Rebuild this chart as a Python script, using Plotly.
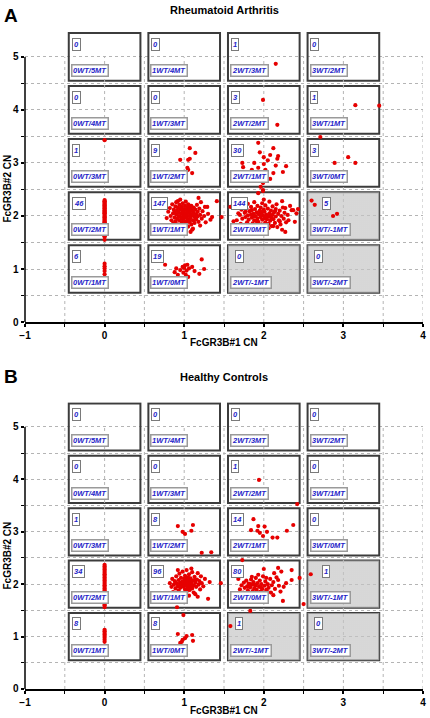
import plotly.graph_objects as go

# ---------------- data ----------------
wt_copies = [0, 1, 2, 3]            # FcGR3B#1 CN (x)
total_copies = [5, 4, 3, 2, 1]      # FcGR3B#2 CN (y), rows top->bottom

ra_counts = [[0, 0, 1, 0],
             [0, 0, 3, 1],
             [1, 9, 30, 3],
             [46, 147, 144, 5],
             [6, 19, 0, 0]]
hc_counts = [[0, 0, 0, 0],
             [0, 0, 1, 0],
             [1, 8, 14, 0],
             [34, 96, 80, 1],
             [8, 8, 1, 0]]

ra_zero_y = [3.43, 2.30, 2.28, 2.27, 2.25, 2.23, 2.21, 2.20, 2.18, 2.16, 2.14, 2.13, 2.11,
             2.09, 2.07, 2.05, 2.04, 2.02, 2.00, 1.98, 1.97, 1.95, 1.93, 1.91, 1.89, 1.88,
             1.86, 1.84, 1.82, 1.80, 1.79, 1.77, 1.75, 1.73, 1.71, 1.70, 1.68, 1.66, 1.64,
             1.62, 1.61, 1.55, 1.10, 1.05, 1.01, 0.96, 0.90, 0.82]

ra_points = [
    # 1WT/1MT
    (0.78, 1.96), (0.80, 2.08), (0.82, 2.15), (0.83, 2.00), (0.84, 1.92), (0.85, 2.22),
    (0.86, 2.05), (0.86, 1.86), (0.87, 2.12), (0.88, 1.97), (0.89, 2.18), (0.89, 1.90),
    (0.90, 2.03), (0.90, 2.26), (0.91, 1.95), (0.91, 2.10), (0.92, 1.84), (0.92, 2.16),
    (0.93, 2.00), (0.93, 2.07), (0.94, 1.92), (0.94, 2.21), (0.95, 1.79), (0.95, 2.12),
    (0.95, 2.31), (0.96, 1.97), (0.96, 2.04), (0.97, 1.88), (0.97, 2.17), (0.97, 1.73),
    (0.98, 2.09), (0.98, 1.94), (0.98, 2.24), (0.99, 2.01), (0.99, 1.83), (1.00, 2.13),
    (1.00, 1.96), (1.00, 2.06), (1.01, 1.90), (1.01, 2.19), (1.01, 1.77), (1.02, 2.02),
    (1.02, 2.27), (1.03, 1.97), (1.03, 2.11), (1.03, 1.86), (1.04, 2.05), (1.04, 2.16),
    (1.05, 1.93), (1.05, 1.80), (1.05, 2.22), (1.06, 2.00), (1.06, 2.09), (1.07, 1.89),
    (1.07, 2.14), (1.08, 1.96), (1.08, 2.04), (1.08, 1.70), (1.09, 2.19), (1.09, 1.84),
    (1.10, 2.01), (1.10, 2.10), (1.11, 1.92), (1.11, 1.76), (1.12, 2.06), (1.12, 2.16),
    (1.13, 1.98), (1.13, 1.87), (1.14, 2.12), (1.15, 2.03), (1.15, 1.94), (1.16, 2.21),
    (1.17, 1.99), (1.17, 2.08), (1.18, 1.89), (1.19, 2.14), (1.20, 2.02), (1.20, 1.82),
    (1.21, 2.26), (1.22, 1.95), (1.23, 2.09), (1.25, 2.00), (1.26, 2.17), (1.27, 1.88),
    (1.29, 2.17), (1.30, 2.04), (1.33, 1.93), (1.35, 1.98), (1.41, 2.28), (1.47, 1.98),
    (0.97, 1.74), (1.10, 1.74), (1.18, 2.34), (0.92, 2.28), (1.02, 1.99), (0.99, 2.08),
    (1.04, 1.91), (0.96, 2.14), (1.06, 2.20), (0.88, 2.07), (1.14, 2.00), (1.00, 2.01),
    (0.94, 1.99), (1.08, 2.12),
    # 2WT/0MT
    (1.58, 2.17), (1.62, 1.90), (1.66, 1.92), (1.68, 2.05), (1.70, 2.02), (1.71, 1.85),
    (1.72, 2.12), (1.73, 1.95), (1.74, 2.20), (1.75, 1.80), (1.76, 2.06), (1.77, 1.98),
    (1.78, 2.14), (1.79, 1.88), (1.80, 2.23), (1.80, 2.01), (1.81, 1.93), (1.82, 2.09),
    (1.83, 1.77), (1.84, 2.17), (1.85, 2.11), (1.85, 1.97), (1.86, 1.86), (1.87, 2.04),
    (1.88, 2.26), (1.88, 1.92), (1.89, 2.13), (1.90, 1.81), (1.90, 2.00), (1.91, 2.07),
    (1.92, 1.95), (1.92, 2.19), (1.93, 2.43), (1.93, 1.89), (1.94, 2.03), (1.94, 1.74),
    (1.95, 2.10), (1.96, 1.98), (1.96, 2.16), (1.97, 1.84), (1.97, 2.06), (1.98, 1.93),
    (1.98, 2.24), (1.99, 2.49), (1.99, 2.01), (2.00, 1.79), (2.00, 2.12), (2.01, 1.96),
    (2.01, 2.08), (2.02, 1.88), (2.02, 2.20), (2.03, 2.02), (2.04, 1.94), (2.04, 1.72),
    (2.05, 2.14), (2.05, 1.99), (2.06, 1.85), (2.07, 2.05), (2.07, 2.27), (2.08, 1.91),
    (2.09, 2.10), (2.09, 1.97), (2.10, 1.81), (2.11, 2.18), (2.11, 2.02), (2.12, 1.94),
    (2.13, 2.07), (2.14, 1.87), (2.15, 2.13), (2.15, 1.99), (2.16, 2.22), (2.17, 1.79),
    (2.18, 2.04), (2.19, 1.92), (2.20, 2.10), (2.21, 1.84), (2.22, 2.00), (2.23, 2.28),
    (2.23, 1.74), (2.24, 2.16), (2.25, 1.95), (2.26, 2.06), (2.27, 2.15), (2.27, 1.70),
    (2.28, 1.88), (2.30, 2.02), (2.31, 1.92), (2.33, 2.19), (2.35, 2.11), (2.37, 2.11),
    (2.39, 1.89), (2.41, 2.05), (2.43, 2.13), (2.12, 1.81), (2.06, 1.77), (1.87, 1.99),
    (1.95, 2.04), (2.03, 1.96), (1.99, 2.09), (2.08, 2.00), (1.91, 1.90), (2.14, 2.09),
    (1.84, 2.03), (2.00, 2.31), (1.77, 2.08), (2.20, 1.90),
    # 2WT/1MT
    (1.93, 3.38), (2.12, 3.28), (2.00, 3.11), (2.08, 3.15), (2.18, 3.13), (2.17, 3.08),
    (1.73, 3.00), (1.74, 2.92), (1.88, 3.00), (2.00, 2.98), (2.28, 2.94), (1.93, 2.91),
    (2.02, 2.87), (1.85, 2.87), (2.12, 2.81), (2.24, 2.83), (1.89, 2.81), (1.98, 2.81),
    (2.04, 2.79), (1.93, 2.74), (1.99, 2.72), (1.92, 2.68), (1.99, 2.62), (1.99, 2.47),
    (2.05, 3.05), (1.95, 3.20), (2.15, 2.95), (1.82, 2.75), (2.08, 2.70), (1.96, 2.55),
    # 1WT/2MT
    (1.07, 3.28), (1.14, 3.19), (1.05, 3.06), (1.07, 3.08), (0.95, 3.06), (1.04, 2.91),
    (1.05, 2.87), (1.10, 2.81), (0.95, 2.72),
    # 1WT/0MT
    (0.76, 1.08), (0.88, 0.94), (0.92, 0.89), (0.98, 1.04), (1.00, 1.02), (1.02, 0.89),
    (1.05, 0.85), (1.10, 1.04), (1.19, 0.91), (1.25, 1.00), (0.95, 0.98), (1.01, 1.07),
    (1.03, 0.97), (0.99, 0.93), (1.06, 1.01), (1.13, 0.96), (0.90, 1.01), (1.22, 1.18),
    (1.04, 1.08),
    # others
    (2.71, 3.49), (2.89, 3.00), (3.06, 3.11), (3.15, 3.00),
    (3.15, 4.09), (3.45, 4.08),
    (1.66, 3.77), (1.99, 4.19), (2.17, 3.72),
    (2.15, 4.87),
    (2.60, 2.29), (2.64, 2.21), (2.87, 2.00), (2.92, 2.04),
]

hc_zero_y = [2.69, 2.37, 2.34, 2.31, 2.28, 2.25, 2.22, 2.19, 2.16, 2.13, 2.10, 2.07, 2.04,
             2.01, 1.98, 1.95, 1.92, 1.89, 1.87, 1.84, 1.81, 1.78, 1.76, 1.73, 1.70, 1.68,
             1.65, 1.62, 1.60, 1.56, 1.13, 1.10, 1.07, 1.04, 1.01, 0.98, 0.94, 0.90]

hc_points = [
    # 1WT/1MT
    (0.86, 1.85), (0.91, 1.56), (0.99, 1.41), (1.17, 1.76), (1.30, 1.72), (1.32, 2.04),
    (0.82, 2.02), (0.84, 1.95), (0.85, 2.10), (0.87, 1.99), (0.88, 2.06), (0.89, 1.92),
    (0.90, 2.15), (0.91, 2.01), (0.92, 1.96), (0.93, 2.08), (0.93, 1.88), (0.94, 2.20),
    (0.95, 2.03), (0.95, 1.93), (0.96, 2.12), (0.97, 1.98), (0.97, 1.83), (0.98, 2.05),
    (0.98, 2.24), (0.99, 1.95), (1.00, 2.10), (1.00, 2.00), (1.01, 1.90), (1.01, 2.16),
    (1.02, 2.04), (1.02, 1.97), (1.03, 2.27), (1.03, 1.86), (1.04, 2.08), (1.04, 2.01),
    (1.05, 1.94), (1.05, 2.13), (1.06, 1.99), (1.06, 2.19), (1.07, 2.05), (1.07, 1.89),
    (1.08, 1.96), (1.08, 2.11), (1.09, 2.02), (1.10, 1.92), (1.10, 2.23), (1.11, 2.07),
    (1.12, 1.98), (1.12, 1.84), (1.13, 2.14), (1.14, 2.03), (1.15, 1.95), (1.16, 2.09),
    (1.17, 2.21), (1.18, 1.99), (1.19, 2.06), (1.20, 1.90), (1.21, 2.15), (1.22, 2.02),
    (1.24, 1.96), (1.26, 2.10), (0.98, 1.80), (1.06, 1.78), (1.14, 1.81), (0.92, 2.27),
    (1.09, 2.30), (1.02, 2.13), (0.96, 2.00), (1.04, 1.92), (1.00, 2.05), (1.11, 1.97),
    (0.89, 2.04), (1.07, 2.00), (0.95, 1.98), (1.13, 2.08),
    # 2WT/0MT
    (1.46, 2.02), (1.68, 2.10), (1.73, 2.46), (1.85, 2.14), (2.00, 2.29), (2.13, 2.21),
    (2.18, 2.31), (2.22, 2.24), (2.35, 2.27), (2.35, 2.08), (2.45, 2.12), (2.18, 2.08),
    (2.25, 1.95), (2.24, 1.68), (2.50, 1.62), (2.12, 1.79), (2.05, 1.85), (1.83, 1.49),
    (1.70, 1.90), (1.72, 1.98), (1.74, 1.84), (1.75, 2.03), (1.76, 1.93), (1.77, 1.78),
    (1.78, 2.07), (1.79, 1.96), (1.80, 1.88), (1.81, 2.01), (1.82, 1.82), (1.83, 1.94),
    (1.84, 2.09), (1.85, 1.99), (1.86, 1.87), (1.86, 1.76), (1.87, 2.04), (1.88, 1.92),
    (1.89, 1.83), (1.90, 2.12), (1.90, 1.97), (1.91, 1.89), (1.92, 2.02), (1.93, 1.79),
    (1.94, 1.95), (1.95, 2.07), (1.96, 1.86), (1.97, 2.00), (1.98, 1.91), (1.99, 2.15),
    (2.00, 1.81), (2.01, 1.97), (2.02, 2.05), (2.03, 1.89), (2.05, 2.00), (2.06, 1.93),
    (2.08, 2.10), (2.09, 1.84), (2.10, 1.98), (2.12, 2.04), (2.14, 1.91), (2.16, 2.13),
    (2.19, 1.97), (2.21, 1.86), (2.28, 2.02), (1.79, 1.75), (1.92, 1.72), (1.88, 1.99),
    (1.95, 1.85), (1.83, 2.00), (1.97, 1.93), (2.03, 2.12), (1.80, 1.95), (1.93, 2.18),
    # 2WT/1MT
    (1.87, 3.24), (1.93, 3.11), (2.01, 3.10), (1.84, 3.03), (1.92, 3.02), (1.95, 2.98),
    (2.04, 3.00), (1.99, 2.92), (2.11, 2.89), (2.17, 2.89), (2.29, 3.02), (2.37, 3.13),
    (1.87, 2.75), (1.95, 2.80), (2.42, 3.53),
    # 1WT/2MT
    (0.92, 3.11), (0.98, 3.00), (1.01, 2.96), (1.09, 3.02), (1.11, 3.13), (0.98, 2.82),
    (1.22, 2.60), (1.34, 2.61),
    # 1WT/0MT
    (0.92, 1.05), (0.97, 0.90), (1.01, 0.97), (1.03, 1.01), (1.10, 1.03), (1.11, 0.92),
    (0.98, 0.94), (0.95, 0.88),
    # others
    (1.94, 3.99), (2.59, 2.19), (1.58, 1.20),
]

# ---------------- style ----------------
FONT = "Liberation Sans"
RED = "#e60000"
BLUE = "#2424c8"
GRID = "#b4b4b4"
HALF = 0.45

fig = go.Figure()

panels = [
    dict(x="x", y="y", counts=ra_counts, zero=ra_zero_y, pts=ra_points,
         dom=[0.5515, 0.9554]),
    dict(x="x2", y="y2", counts=hc_counts, zero=hc_zero_y, pts=hc_points,
         dom=[0.0404, 0.4396]),
]

shapes = []
annotations = []

for p in panels:
    xr, yr = p["x"], p["y"]
    sx, sy = [], []
    for r, tot in enumerate(total_copies):
        for c, wt in enumerate(wt_copies):
            mt = tot - wt
            shapes.append(dict(type="rect", xref=xr, yref=yr, layer="between",
                               x0=wt - HALF, x1=wt + HALF, y0=tot - HALF, y1=tot + HALF,
                               line=dict(color="#3c3c3c", width=2)))
            if mt < 0:
                sx += [wt - HALF, wt + HALF, wt + HALF, wt - HALF, wt - HALF, None]
                sy += [tot - HALF, tot - HALF, tot + HALF, tot + HALF, tot - HALF, None]
            off = 0.14 if (wt == 3 and mt == -1) else (0.05 if mt < 0 else 0.0)
            annotations.append(dict(
                xref=xr, yref=yr, x=wt - HALF + 0.035 + off, y=tot + HALF - 0.085,
                xanchor="left", yanchor="top", showarrow=False,
                text="<b><i>%d</i></b>" % p["counts"][r][c],
                font=dict(family=FONT, size=7.5, color=BLUE),
                bgcolor="white", bordercolor="#7a7a7a", borderwidth=1, borderpad=1))
            annotations.append(dict(
                xref=xr, yref=yr, x=wt - HALF + 0.025, y=tot - HALF + 0.065,
                xanchor="left", yanchor="bottom", showarrow=False,
                text="<b><i>%dWT/%dMT</i></b>" % (wt, mt),
                font=dict(family=FONT, size=7.5, color=BLUE),
                bgcolor="white", bordercolor="#9a9a9a", borderwidth=1.5, borderpad=0.5))
    fig.add_trace(go.Scatter(x=sx, y=sy, xaxis=xr, yaxis=yr, mode="lines",
                             fill="toself", line=dict(width=0),
                             fillcolor="rgba(0,0,0,0)",
                             fillpattern=dict(shape=".", fgcolor="#8a8a8a",
                                              bgcolor="rgba(218,218,218,0.6)",
                                              size=2, solidity=0.4),
                             hoverinfo="skip", showlegend=False))
    for gx in [-0.5, 0, 0.5, 1, 1.5, 2, 2.5, 3, 3.5, 4]:
        shapes.append(dict(type="line", xref=xr, yref=yr, layer="between",
                           x0=gx, x1=gx, y0=0, y1=5,
                           line=dict(color=GRID, width=1, dash="dot")))
    shapes.append(dict(type="line", xref=xr + " domain", yref=yr, layer="above",
                       x0=0, x1=0, y0=0, y1=5, line=dict(color="black", width=1.5)))
    xs = [0.0] * len(p["zero"]) + [q[0] for q in p["pts"]]
    ys = list(p["zero"]) + [q[1] for q in p["pts"]]
    fig.add_trace(go.Scatter(x=xs, y=ys, xaxis=xr, yaxis=yr, mode="markers",
                             marker=dict(color=RED, size=4.2, line=dict(width=0)),
                             showlegend=False))

axis_common = dict(showgrid=False, zeroline=False, ticks="outside", ticklen=3.5, tickwidth=1.5,
                   tickcolor="black", tickfont=dict(family=FONT, size=10, color="black", weight="bold"),
                   automargin=False)

for xa, ya, p in [("xaxis", "yaxis", panels[0]), ("xaxis2", "yaxis2", panels[1])]:
    fig.layout[xa] = dict(axis_common, range=[-1, 4], domain=[0, 1],
                          tickvals=[-1, 0, 1, 2, 3, 4], showline=True, linecolor="black",
                          linewidth=1.5, anchor=p["y"],
                          minor=dict(dtick=0.5, tick0=0, ticks="outside", ticklen=3,
                                     tickwidth=1, tickcolor="black", showgrid=False))
    fig.layout[ya] = dict(axis_common, range=[0, 5.47], domain=p["dom"],
                          tickvals=[0, 1, 2, 3, 4, 5], showline=False, anchor=p["x"],
                          showgrid=True, gridcolor=GRID, griddash="dot", gridwidth=1,
                          minor=dict(dtick=0.5, tick0=0, ticks="outside", ticklen=3,
                                     tickwidth=1, tickcolor="black", showgrid=True,
                                     gridcolor=GRID, griddash="dot", gridwidth=1))

def txt(text, x, y, size, xanchor="center", angle=0):
    annotations.append(dict(xref="paper", yref="paper", x=x, y=y, text=text,
                            showarrow=False, xanchor=xanchor, yanchor="middle",
                            textangle=angle,
                            font=dict(family=FONT, size=size, color="black")))

txt("<b>A</b>", -0.057, 0.978, 19, xanchor="left")
txt("<b>B</b>", -0.057, 0.476, 19, xanchor="left")
txt("<b>Rheumatoid Arthritis</b>", 0.5, 0.986, 11)
txt("<b>Healthy Controls</b>", 0.5, 0.475, 11)
txt("<b>FcGR3B#1 CN</b>", 0.5, 0.5223, 10)
txt("<b>FcGR3B#1 CN</b>", 0.5, 0.0111, 10)
txt("<b>FcGR3B#2 CN</b>", -0.044, 0.738, 10, angle=-90)
txt("<b>FcGR3B#2 CN</b>", -0.044, 0.227, 10, angle=-90)

fig.update_layout(width=430, height=718, margin=dict(l=25, r=7, t=0, b=0),
                  paper_bgcolor="white", plot_bgcolor="white",
                  shapes=shapes, annotations=annotations, showlegend=False)

fig.write_html("out.html", config={"displayModeBar": False},
               post_script="document.body.style.margin='0';document.body.style.overflow='hidden';")
